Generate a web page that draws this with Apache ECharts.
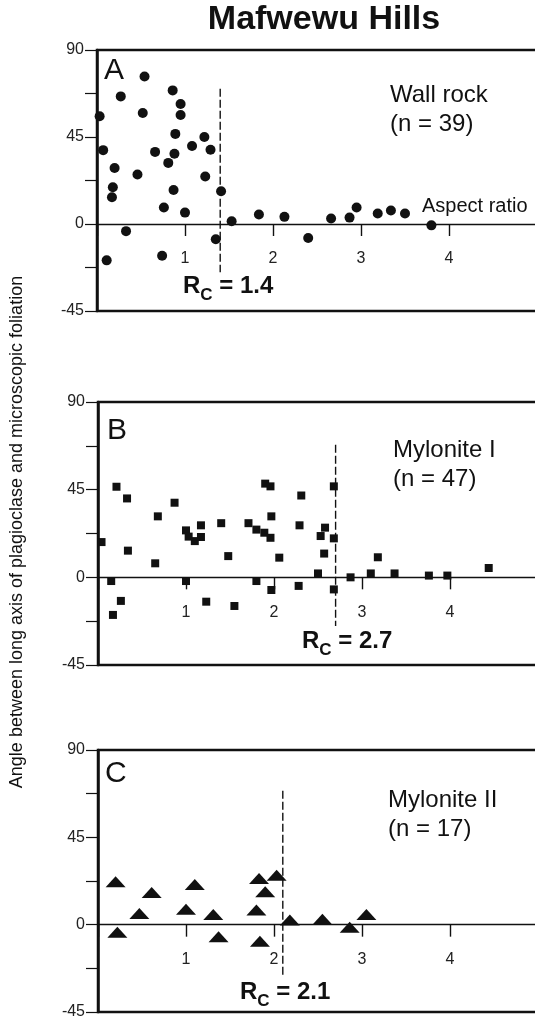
<!DOCTYPE html>
<html>
<head>
<meta charset="utf-8">
<title>Mafwewu Hills</title>
<script src="https://cdn.jsdelivr.net/npm/echarts@6/dist/echarts.min.js"></script>
<style>
  html, body { margin: 0; padding: 0; background: #fff; }
  #chart { width: 535px; height: 1019px; }
</style>
</head>
<body>
<div id="chart"></div>
<script>
// ---- Data: aspect ratio (x) vs angle between long axis and foliation (y, degrees) ----

// A – Wall rock (n = 39)
const wallRockRatio = [0.03, 0.07, 0.11, 0.20, 0.18, 0.17, 0.27, 0.33, 0.46, 0.54,
                       0.52, 0.66, 0.74, 0.76, 0.81, 0.86, 0.89, 0.88, 0.87, 0.95,
                       0.95, 1.00, 1.08, 1.22, 1.29, 1.23, 1.35, 1.41, 1.53, 1.84,
                       2.13, 2.40, 2.66, 2.87, 2.95, 3.19, 3.34, 3.50, 3.80];
const wallRockAngle = [55.7, 38.2, -18.8, 29.0, 19.0, 13.8, 66.0, -3.7, 25.6, 76.3,
                       57.4, 37.3, -16.4, 8.5, 31.6, 69.1, 46.6, 36.3, 17.6, 62.1,
                       56.4, 5.9, 40.3, 45.0, 38.4, 24.6, -7.9, 16.9, 1.4, 4.9,
                       3.7, -7.2, 2.8, 3.3, 8.5, 5.4, 7.0, 5.4, -0.7];

// B – Mylonite I (n = 47)
const myloniteIRatio = [0.04, 0.15, 0.21, 0.17, 0.26, 0.33, 0.34, 0.65, 0.68, 0.87,
                        1.00, 1.00, 1.03, 1.10, 1.17, 1.17, 1.23, 1.40, 1.48, 1.55,
                        1.71, 1.80, 1.80, 1.89, 1.90, 1.96, 1.97, 1.96, 1.97, 2.06,
                        2.28, 2.29, 2.31, 2.50, 2.53, 2.58, 2.57, 2.68, 2.68, 2.68,
                        2.87, 3.10, 3.18, 3.37, 3.76, 3.97, 4.44];
const myloniteIAngle = [18.1, -1.9, 46.5, -19.3, -12.1, 40.5, 13.7, 7.2, 31.3, 38.3,
                        24.1, -1.9, 20.9, 18.6, 26.7, 20.7, -12.5, 27.8, 10.9, -14.7,
                        27.8, -1.9, 24.5, 22.9, 48.1, 46.7, 31.3, 20.3, -6.5, 10.1,
                        -4.4, 26.7, 42.0, 2.0, 21.2, 25.5, 12.2, 20.0, 46.7, -6.2,
                        0.0, 2.0, 10.3, 2.0, 0.9, 0.9, 4.8];

// C – Mylonite II (n = 17)
const myloniteIIRatio = [0.20, 0.22, 0.47, 0.61, 1.00, 1.10, 1.31, 1.37, 1.80, 1.83,
                         1.90, 1.84, 2.03, 2.18, 2.55, 2.86, 3.05];
const myloniteIIAngle = [22.1, -3.9, 5.7, 16.6, 8.0, 20.7, 5.2, -6.2, 7.5, 23.8,
                         16.9, -8.6, 25.4, 2.4, 2.8, -1.3, 5.2];

// Critical aspect ratios and the vertical extent of their dashed markers
const rcValues = [1.4, 2.7, 2.1];
const rcSpan = [[70, -25], [68, -25], [69, -26]];

// Panel names and sample labels
const panelLetters = ['A', 'B', 'C'];
const sampleNames = ['Wall rock', 'Mylonite I', 'Mylonite II'];
const sampleCounts = ['(n = 39)', '(n = 47)', '(n = 17)'];
const xTickLabels = [1, 2, 3, 4];
const yTickLabels = [-45, 0, 45, 90];

// ---- Layout ----
const FONT = '"Liberation Sans", Arial, Helvetica, sans-serif';
const INK = '#111';
const PX_PER_UNIT = 88;
const GRID_W = 460;                 // right edge runs off the canvas (open right side)
const X_MIN = 0, X_MAX = GRID_W / PX_PER_UNIT;
const Y_MIN = -45, Y_MAX = 90;
const grids = [
  { left: 97, top: 50, width: GRID_W, height: 261 },
  { left: 98, top: 402, width: GRID_W, height: 263 },
  { left: 98, top: 750, width: GRID_W, height: 262 }
];

const pair = (xs, ys) => xs.map((x, i) => [x, ys[i]]);
const seriesData = [
  pair(wallRockRatio, wallRockAngle),
  pair(myloniteIRatio, myloniteIAngle),
  pair(myloniteIIRatio, myloniteIIAngle)
];
const symbols = [
  { symbol: 'circle', symbolSize: 10 },
  { symbol: 'rect', symbolSize: 8 },
  { symbol: 'triangle', symbolSize: [20, 11] }
];

// The aspect-ratio axis runs along angle = 0: shift it up from the grid bottom
const xAxes = grids.map((g, i) => ({
  gridIndex: i, type: 'value', min: X_MIN, max: X_MAX, interval: 1, position: 'bottom',
  offset: -g.height * (0 - Y_MIN) / (Y_MAX - Y_MIN),
  axisLine: { show: true, onZero: false, lineStyle: { color: INK, width: 1.3 } },
  axisTick: { show: true, inside: false, length: 12, lineStyle: { color: INK, width: 1.4 } },
  axisLabel: {
    margin: 27, fontSize: 16, color: '#222', fontFamily: FONT,
    formatter: v => xTickLabels.indexOf(v) >= 0 ? String(v) : ''
  },
  splitLine: { show: false }
}));

const yAxes = grids.map((g, i) => ({
  gridIndex: i, type: 'value', min: Y_MIN, max: Y_MAX, interval: 22.5,
  axisLine: { show: true, onZero: false, lineStyle: { color: INK, width: 2.5 } },
  axisTick: { show: true, inside: false, length: 12, lineStyle: { color: INK, width: 1.2 } },
  axisLabel: {
    margin: 13, fontSize: 16, color: '#222', fontFamily: FONT,
    formatter: v => yTickLabels.indexOf(v) >= 0 ? String(v) : ''
  },
  splitLine: { show: false }
}));

const series = [];
seriesData.forEach((data, i) => {
  series.push({
    type: 'scatter', xAxisIndex: i, yAxisIndex: i, data: data,
    symbol: symbols[i].symbol, symbolSize: symbols[i].symbolSize,
    itemStyle: { color: INK, opacity: 1 }, silent: true, z: 3
  });
  series.push({
    type: 'line', xAxisIndex: i, yAxisIndex: i,
    data: [[rcValues[i], rcSpan[i][0]], [rcValues[i], rcSpan[i][1]]],
    symbol: 'none', silent: true, z: 2,
    lineStyle: { color: INK, width: 1.4, type: [8, 3] }
  });
});

// ---- Text annotations ----
const measureCtx = document.createElement('canvas').getContext('2d');
function textWidth(str, size, weight) {
  measureCtx.font = weight + ' ' + size + 'px ' + FONT;
  return measureCtx.measureText(str).width;
}
function txt(x, y, text, size, opts) {
  opts = opts || {};
  return {
    type: 'text', x: x, y: y, rotation: opts.rotation || 0, silent: true, z: 10,
    style: {
      text: text, fill: opts.fill || INK,
      font: (opts.weight || 'normal') + ' ' + size + 'px ' + FONT,
      textAlign: opts.align || 'left', textVerticalAlign: 'middle'
    }
  };
}
// "R_C = value" label with subscript C
function rcLabel(x, y, value) {
  const wR = textWidth('R', 24, 'bold');
  const wC = textWidth('C', 17, 'bold');
  return [
    txt(x, y, 'R', 24, { weight: 'bold' }),
    txt(x + wR, y + 9, 'C', 17, { weight: 'bold' }),
    txt(x + wR + wC, y, ' = ' + value.toFixed(1), 24, { weight: 'bold' })
  ];
}

const letterPos = [[104, 71], [107, 431], [105, 774]];
const samplePos = [[390, 95, 124], [393, 450, 479], [388, 800, 829]];
const rcPos = [[183, 286], [302, 641], [240, 992]];

let graphics = [
  txt(324, 20, 'Mafwewu Hills', 34, { weight: 'bold', align: 'center' }),
  txt(17, 532, 'Angle between long axis of plagioclase and microscopic foliation', 18,
      { align: 'center', rotation: Math.PI / 2 }),
  txt(422, 206, 'Aspect ratio', 20)
];
for (let i = 0; i < 3; i++) {
  graphics.push(txt(letterPos[i][0], letterPos[i][1], panelLetters[i], 30));
  graphics.push(txt(samplePos[i][0], samplePos[i][1], sampleNames[i], 24));
  graphics.push(txt(samplePos[i][0], samplePos[i][2], sampleCounts[i], 24));
  graphics = graphics.concat(rcLabel(rcPos[i][0], rcPos[i][1], rcValues[i]));
}

const chart = echarts.init(document.getElementById('chart'), null, { renderer: 'canvas' });
chart.setOption({
  animation: false,
  backgroundColor: '#fff',
  grid: grids.map(g => Object.assign({
    show: true, borderColor: INK, borderWidth: 2.5, backgroundColor: 'transparent',
    containLabel: false, outerBoundsMode: 'none'
  }, g)),
  xAxis: xAxes,
  yAxis: yAxes,
  series: series,
  graphic: { elements: graphics }
});
</script>
</body>
</html>
